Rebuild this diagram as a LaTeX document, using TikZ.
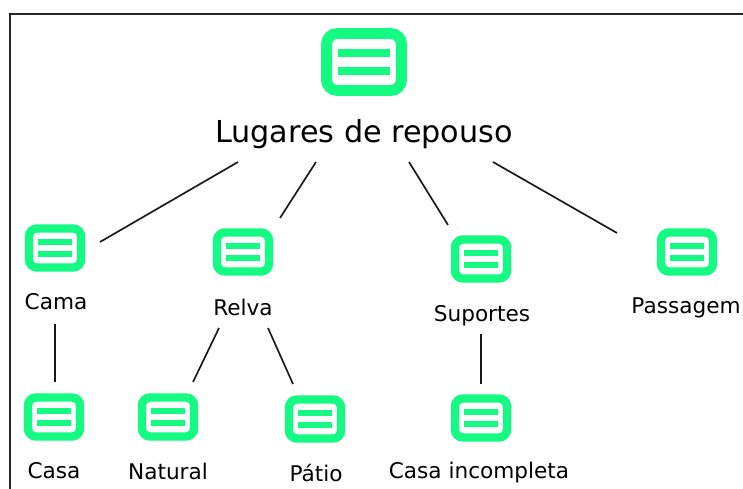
\documentclass[tikz,border=0pt]{standalone}
\usepackage{fontspec}
\setmainfont{DejaVu Sans}
\usetikzlibrary{positioning}
\definecolor{IconGreen}{RGB}{20, 250, 130}
\tikzset{
  icon/.style={draw=IconGreen, rounded corners=4.5pt, line width=4.8pt, minimum width=29.6pt, minimum height=22.2pt, inner sep=0pt,
    path picture={
      \fill[IconGreen, sharp corners] ([xshift=-9.8pt,yshift=1.9pt]path picture bounding box.center) rectangle ([xshift=9.8pt,yshift=5.3pt]path picture bounding box.center);
      \fill[IconGreen, sharp corners] ([xshift=-9.8pt,yshift=-1.9pt]path picture bounding box.center) rectangle ([xshift=9.8pt,yshift=-5.3pt]path picture bounding box.center);
    }},
  bigicon/.style={draw=IconGreen, rounded corners=6pt, line width=6.2pt, minimum width=42.6pt, minimum height=32.4pt, inner sep=0pt,
    path picture={
      \fill[IconGreen, sharp corners] ([xshift=-15pt,yshift=2.8pt]path picture bounding box.center) rectangle ([xshift=15pt,yshift=7.6pt]path picture bounding box.center);
      \fill[IconGreen, sharp corners] ([xshift=-15pt,yshift=-2.8pt]path picture bounding box.center) rectangle ([xshift=15pt,yshift=-7.6pt]path picture bounding box.center);
    }},
  iconlabel/.style={font=\fontsize{12.3pt}{14pt}\selectfont, inner sep=0pt},
  link/.style={line width=0.95pt, black!90}
}
\begin{document}
\begin{tikzpicture}[x=0.02cm,y=-0.02cm]
  \useasboundingbox (0,0) rectangle (743,489);
  % frame
  \draw[line width=1.1pt, black!85] (10,489) -- (10,14) -- (743,14);
  % icons
  \node[bigicon] (top) at (364,62) {};
  \node[icon] (cama) at (55,248) {};
  \node[icon] (relva) at (243,252) {};
  \node[icon] (suportes) at (481,259) {};
  \node[icon] (passagem) at (687,252) {};
  \node[icon] (casa) at (54,417) {};
  \node[icon] (natural) at (168,417) {};
  \node[icon] (patio) at (315,419) {};
  \node[icon] (incompleta) at (481,418) {};
  % labels
  \node[font=\fontsize{17.2pt}{20pt}\selectfont, inner sep=0pt] (lugares) at (364,134) {Lugares de repouso};
  \node[iconlabel] (tcama) at (56,302) {Cama};
  \node[iconlabel] (trelva) at (243,307) {Relva};
  \node[iconlabel] (tsuportes) at (482,316) {Suportes};
  \node[iconlabel] (tpassagem) at (686,308) {Passagem};
  \node[iconlabel] (tcasa) at (54,471) {Casa};
  \node[iconlabel] (tnatural) at (168,471) {Natural};
  \node[iconlabel] (tpatio) at (316,473) {Pátio};
  \node[iconlabel] (tincompleta) at (479,473) {Casa incompleta};
  % links
  \draw[link] ([shift={(-126,28)}]lugares.center) -- ([shift={(45,-6)}]cama.center);
  \draw[link] ([shift={(-48,28)}]lugares.center) -- ([shift={(37,-34)}]relva.center);
  \draw[link] ([shift={(45,28)}]lugares.center) -- ([shift={(-33,-34)}]suportes.center);
  \draw[link] ([shift={(129,28)}]lugares.center) -- ([shift={(-70,-19)}]passagem.center);
  \draw[link] ([shift={(-1,22)}]tcama.center) -- ([shift={(1,-35)}]casa.center);
  \draw[link] ([shift={(-24,21)}]trelva.center) -- ([shift={(25,-35)}]natural.center);
  \draw[link] ([shift={(25,21)}]trelva.center) -- ([shift={(-22,-35)}]patio.center);
  \draw[link] ([shift={(-1,18)}]tsuportes.center) -- ([shift={(0,-34)}]incompleta.center);
\end{tikzpicture}
\end{document}
